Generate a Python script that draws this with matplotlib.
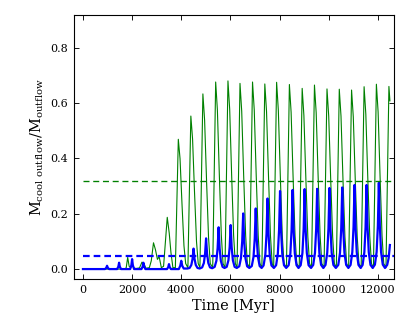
import numpy as np
import matplotlib.pyplot as plt

plt.rcParams['font.family'] = 'DejaVu Serif'
plt.rcParams['mathtext.fontset'] = 'dejavuserif'

# green curve: time [Myr] and ratio
green_t = [0, 1700, 1760, 1820, 1880, 1950, 2000, 2060, 2150, 2300, 2400, 2480, 2560,
           2700, 2780, 2870, 2950, 3030, 3100, 3190, 3280, 3430, 3510, 3580, 3660,
           3760, 3880, 3950, 4030, 4110, 4180,
           4270, 4390, 4460, 4540, 4620, 4690,
           4760, 4880, 4950, 5030, 5110, 5180,
           5280, 5400, 5470, 5550, 5630, 5700,
           5780, 5900, 5970, 6050, 6130, 6200,
           6270, 6390, 6460, 6540, 6620, 6690,
           6780, 6900, 6970, 7050, 7130, 7200,
           7280, 7400, 7470, 7550, 7630, 7700,
           7760, 7880, 7950, 8030, 8110, 8180,
           8280, 8400, 8470, 8550, 8630, 8700,
           8800, 8920, 8990, 9070, 9150, 9220,
           9300, 9420, 9490, 9570, 9650, 9720,
           9810, 9930, 10000, 10080, 10160, 10230,
           10310, 10430, 10500, 10580, 10660, 10730,
           10810, 10930, 11000, 11080, 11160, 11230,
           11320, 11440, 11510, 11590, 11670, 11740,
           11820, 11940, 12010, 12090, 12170, 12240,
           12330, 12450, 12490]
green_v = [0, 0, 0.005, 0.042, 0.01, 0.005, 0.02, 0.005, 0.002, 0.004, 0.025, 0.02, 0.003,
           0.005, 0.03, 0.095, 0.07, 0.035, 0.045, 0.005, 0.01, 0.187, 0.13, 0.06, 0.005,
           0.005, 0.469, 0.399, 0.235, 0.084, 0.02,
           0.005, 0.553, 0.470, 0.277, 0.100, 0.02,
           0.005, 0.633, 0.538, 0.317, 0.114, 0.02,
           0.005, 0.676, 0.575, 0.338, 0.122, 0.02,
           0.005, 0.680, 0.578, 0.340, 0.122, 0.02,
           0.005, 0.671, 0.570, 0.336, 0.121, 0.02,
           0.005, 0.676, 0.575, 0.338, 0.122, 0.02,
           0.005, 0.669, 0.569, 0.335, 0.120, 0.02,
           0.005, 0.675, 0.574, 0.338, 0.122, 0.02,
           0.005, 0.667, 0.567, 0.334, 0.120, 0.02,
           0.005, 0.653, 0.555, 0.327, 0.118, 0.02,
           0.005, 0.665, 0.565, 0.333, 0.120, 0.02,
           0.005, 0.651, 0.553, 0.326, 0.117, 0.02,
           0.005, 0.650, 0.553, 0.325, 0.117, 0.02,
           0.005, 0.647, 0.550, 0.324, 0.116, 0.02,
           0.005, 0.659, 0.560, 0.330, 0.119, 0.02,
           0.005, 0.668, 0.568, 0.334, 0.120, 0.02,
           0.005, 0.660, 0.608]

# blue curve
blue_t = [0, 900, 950, 980, 1010, 1060, 1390, 1440, 1470, 1500, 1550,
          1920, 1970, 2000, 2030, 2080, 2380, 2430, 2460, 2490, 2540,
          3420, 3470, 3500, 3530, 3580, 3900, 3960, 4000, 4040, 4100, 4250,
          4340, 4410, 4460, 4500, 4540, 4590, 4660, 4750,
          4850, 4920, 4970, 5010, 5050, 5100, 5170, 5260,
          5360, 5430, 5480, 5520, 5560, 5610, 5680, 5760,
          5850, 5920, 5970, 6010, 6050, 6100, 6170, 6260,
          6360, 6430, 6480, 6520, 6560, 6610, 6680, 6770,
          6870, 6940, 6990, 7030, 7070, 7120, 7190, 7270,
          7350, 7420, 7470, 7510, 7550, 7600, 7670, 7770,
          7860, 7930, 7980, 8020, 8060, 8110, 8180, 8270,
          8370, 8440, 8490, 8530, 8570, 8620, 8690, 8770,
          8860, 8930, 8980, 9020, 9060, 9110, 9180, 9280,
          9370, 9440, 9490, 9530, 9570, 9620, 9690, 9780,
          9870, 9940, 9990, 10030, 10070, 10120, 10190, 10290,
          10390, 10460, 10510, 10550, 10590, 10640, 10710, 10800,
          10890, 10960, 11010, 11050, 11090, 11140, 11210, 11300,
          11380, 11450, 11500, 11540, 11580, 11630, 11700, 11790,
          11880, 11950, 12000, 12040, 12080, 12130, 12200, 12290,
          12380, 12440, 12490]
blue_v = [0, 0, 0.005, 0.012, 0.005, 0, 0, 0.009, 0.023, 0.009, 0,
          0, 0.014, 0.036, 0.014, 0, 0, 0.009, 0.023, 0.009, 0,
          0, 0.007, 0.018, 0.007, 0, 0, 0.012, 0.030, 0.012, 0.002, 0.002,
          0.004, 0.015, 0.037, 0.074, 0.037, 0.015, 0.004, 0.002,
          0.006, 0.022, 0.056, 0.111, 0.056, 0.022, 0.006, 0.003,
          0.008, 0.030, 0.076, 0.151, 0.076, 0.030, 0.008, 0.004,
          0.008, 0.032, 0.080, 0.159, 0.080, 0.032, 0.008, 0.004,
          0.010, 0.040, 0.100, 0.201, 0.100, 0.040, 0.010, 0.004,
          0.011, 0.044, 0.110, 0.219, 0.110, 0.044, 0.011, 0.004,
          0.013, 0.051, 0.128, 0.255, 0.128, 0.051, 0.013, 0.004,
          0.014, 0.056, 0.141, 0.282, 0.141, 0.056, 0.014, 0.004,
          0.014, 0.057, 0.143, 0.286, 0.143, 0.057, 0.014, 0.004,
          0.014, 0.058, 0.145, 0.289, 0.145, 0.058, 0.014, 0.004,
          0.015, 0.058, 0.145, 0.290, 0.145, 0.058, 0.015, 0.004,
          0.015, 0.059, 0.147, 0.293, 0.147, 0.059, 0.015, 0.004,
          0.015, 0.059, 0.148, 0.295, 0.148, 0.059, 0.015, 0.004,
          0.015, 0.061, 0.152, 0.304, 0.152, 0.061, 0.015, 0.004,
          0.015, 0.061, 0.152, 0.304, 0.152, 0.061, 0.015, 0.004,
          0.016, 0.062, 0.156, 0.312, 0.156, 0.062, 0.016, 0.004,
          0.015, 0.040, 0.087]

# mean levels
green_mean = 0.317
blue_mean = 0.049

fig = plt.figure(figsize=(5.1875, 4), dpi=80)
ax = fig.add_axes([0.178, 0.128, 0.771, 0.825])

ax.plot(green_t, green_v, color='green', lw=1.0)
ax.plot(blue_t, blue_v, color='blue', lw=2.0)
ax.plot([0, 13000], [green_mean, green_mean], color='green', ls='--', lw=1.2, dashes=(4.5, 2.8))
ax.plot([0, 13000], [blue_mean, blue_mean], color='blue', ls='--', lw=2.0, dashes=(3, 1.8))

ax.set_xlim(-370, 12650)
ax.set_ylim(-0.036, 0.918)
ax.set_xticks(np.arange(0, 12001, 2000))
ax.set_yticks(np.arange(0, 0.81, 0.2))
ax.tick_params(direction='in', top=True, right=True, length=4.5, labelsize=10, pad=5)
for s in ax.spines.values():
    s.set_linewidth(1.0)

ax.set_xlabel('Time [Myr]', fontsize=13)
ax.set_ylabel(r'$\mathrm{M_{cool\ outflow}/M_{outflow}}$', fontsize=13)

fig.savefig('out.png', dpi=80)
